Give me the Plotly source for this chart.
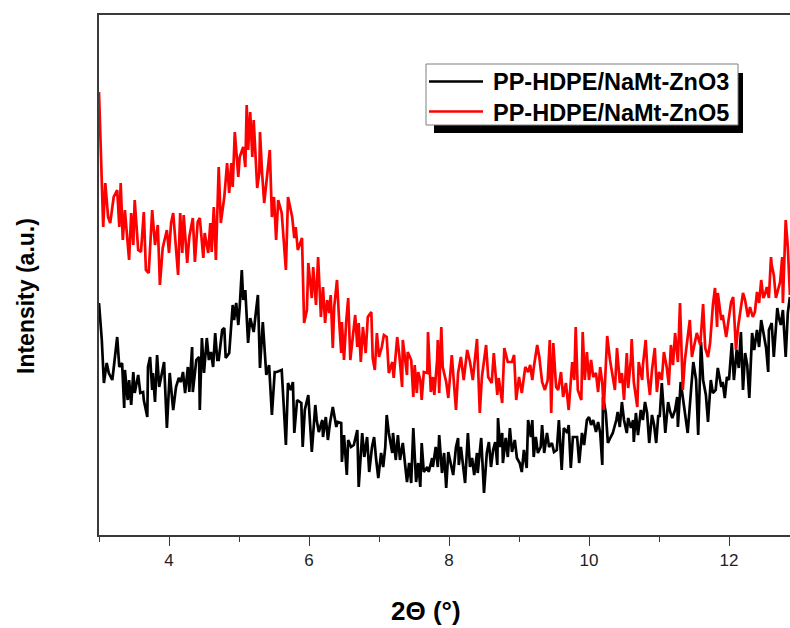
import plotly.graph_objects as go

# ---- data (2θ in degrees, intensity in arbitrary units) ----
two_theta_zno3 = [3.00, 3.04, 3.07, 3.11, 3.14, 3.19, 3.21, 3.26, 3.29, 3.33, 3.36, 3.37, 3.41, 3.43, 3.46, 3.49,
    3.51, 3.56, 3.59, 3.63, 3.64, 3.69, 3.70, 3.73, 3.76, 3.77, 3.80, 3.83, 3.86, 3.89, 3.93, 3.94,
    3.97, 4.01, 4.06, 4.10, 4.14, 4.17, 4.20, 4.23, 4.27, 4.29, 4.33, 4.34, 4.39, 4.43, 4.44, 4.47,
    4.50, 4.54, 4.57, 4.60, 4.63, 4.66, 4.69, 4.71, 4.76, 4.79, 4.81, 4.86, 4.89, 4.91, 4.93, 4.96,
    4.99, 5.01, 5.04, 5.06, 5.09, 5.13, 5.16, 5.19, 5.21, 5.24, 5.27, 5.30, 5.34, 5.39, 5.43, 5.47,
    5.49, 5.51, 5.54, 5.61, 5.64, 5.67, 5.70, 5.74, 5.77, 5.79, 5.83, 5.86, 5.89, 5.91, 5.94, 5.99,
    6.01, 6.04, 6.09, 6.11, 6.14, 6.19, 6.20, 6.24, 6.27, 6.30, 6.34, 6.39, 6.41, 6.46, 6.47, 6.50,
    6.54, 6.56, 6.60, 6.64, 6.69, 6.71, 6.76, 6.79, 6.83, 6.86, 6.90, 6.93, 6.96, 6.99, 7.03, 7.06,
    7.09, 7.11, 7.14, 7.19, 7.20, 7.24, 7.27, 7.30, 7.34, 7.37, 7.40, 7.43, 7.46, 7.49, 7.53, 7.56,
    7.59, 7.61, 7.64, 7.69, 7.71, 7.76, 7.77, 7.81, 7.84, 7.86, 7.90, 7.93, 7.96, 7.99, 8.03, 8.06,
    8.10, 8.13, 8.14, 8.17, 8.20, 8.23, 8.27, 8.30, 8.33, 8.36, 8.40, 8.41, 8.46, 8.50, 8.54, 8.57,
    8.60, 8.63, 8.66, 8.69, 8.70, 8.73, 8.76, 8.77, 8.81, 8.84, 8.87, 8.90, 8.94, 8.97, 9.01, 9.04,
    9.07, 9.11, 9.13, 9.17, 9.19, 9.21, 9.24, 9.27, 9.31, 9.33, 9.36, 9.40, 9.43, 9.47, 9.50, 9.54,
    9.57, 9.61, 9.64, 9.69, 9.71, 9.74, 9.77, 9.83, 9.86, 9.90, 9.93, 9.97, 10.00, 10.03, 10.06, 10.10,
    10.13, 10.16, 10.19, 10.20, 10.24, 10.27, 10.31, 10.34, 10.39, 10.41, 10.44, 10.47, 10.50, 10.54, 10.56, 10.60,
    10.63, 10.64, 10.67, 10.70, 10.74, 10.77, 10.80, 10.83, 10.86, 10.90, 10.93, 10.96, 10.99, 11.01, 11.04, 11.09,
    11.13, 11.16, 11.19, 11.23, 11.26, 11.27, 11.31, 11.34, 11.39, 11.41, 11.46, 11.49, 11.53, 11.56, 11.60, 11.63,
    11.67, 11.70, 11.74, 11.77, 11.81, 11.84, 11.89, 11.91, 11.94, 11.97, 12.00, 12.04, 12.07, 12.11, 12.14, 12.17,
    12.20, 12.23, 12.26, 12.29, 12.33, 12.36, 12.40, 12.43, 12.46, 12.49, 12.53, 12.56, 12.57, 12.61, 12.64, 12.69,
    12.71, 12.74, 12.77, 12.81, 12.84, 12.87]
intensity_zno3 = [232, 195, 152, 172, 162, 155, 167, 198, 168, 172, 127, 165, 135, 155, 130, 163,
    142, 160, 142, 143, 135, 118, 168, 178, 145, 162, 133, 180, 148, 160, 173, 155,
    107, 162, 125, 148, 157, 153, 163, 142, 168, 143, 188, 143, 175, 178, 125, 197,
    162, 197, 175, 183, 168, 202, 175, 175, 205, 207, 177, 182, 215, 230, 215, 232,
    210, 228, 265, 235, 245, 192, 217, 208, 203, 222, 240, 167, 213, 160, 170, 120,
    148, 163, 163, 165, 128, 90, 152, 145, 153, 102, 135, 133, 132, 88, 125, 140,
    115, 83, 130, 115, 103, 115, 98, 118, 95, 112, 128, 108, 113, 112, 73, 100,
    60, 95, 88, 90, 105, 48, 102, 78, 98, 63, 88, 98, 75, 57, 82, 68,
    88, 120, 102, 82, 102, 75, 100, 75, 92, 70, 53, 72, 52, 107, 53, 72,
    48, 92, 63, 68, 63, 77, 68, 88, 68, 100, 62, 82, 47, 83, 70, 60,
    88, 97, 70, 88, 70, 52, 102, 68, 77, 60, 82, 62, 97, 42, 82, 93,
    68, 85, 93, 70, 117, 88, 102, 72, 97, 78, 107, 83, 95, 77, 72, 63,
    85, 67, 115, 98, 115, 78, 98, 82, 88, 110, 82, 102, 88, 92, 83, 85,
    115, 65, 107, 102, 110, 67, 98, 98, 72, 102, 90, 115, 118, 110, 115, 103,
    113, 102, 70, 138, 122, 92, 98, 102, 115, 123, 108, 133, 115, 102, 117, 107,
    115, 93, 122, 100, 125, 115, 133, 122, 92, 120, 110, 92, 120, 118, 152, 102,
    133, 123, 117, 125, 138, 108, 153, 138, 115, 102, 147, 173, 155, 100, 193, 155,
    140, 113, 155, 142, 145, 167, 148, 153, 137, 158, 155, 192, 155, 185, 167, 203,
    145, 182, 170, 137, 202, 185, 205, 188, 215, 202, 187, 163, 205, 212, 178, 227,
    218, 210, 225, 178, 222, 238]

two_theta_zno5 = [3.00, 3.03, 3.04, 3.06, 3.09, 3.13, 3.16, 3.21, 3.26, 3.29, 3.31, 3.34, 3.37, 3.43, 3.46, 3.49,
    3.51, 3.56, 3.60, 3.64, 3.67, 3.71, 3.76, 3.80, 3.84, 3.87, 3.91, 3.97, 4.00, 4.03, 4.06, 4.13,
    4.16, 4.19, 4.21, 4.26, 4.29, 4.34, 4.37, 4.41, 4.44, 4.49, 4.51, 4.56, 4.59, 4.61, 4.64, 4.67,
    4.71, 4.74, 4.79, 4.83, 4.86, 4.89, 4.91, 4.94, 4.99, 5.01, 5.06, 5.09, 5.11, 5.13, 5.16, 5.19,
    5.21, 5.26, 5.29, 5.30, 5.33, 5.36, 5.41, 5.44, 5.47, 5.50, 5.53, 5.56, 5.61, 5.63, 5.67, 5.70,
    5.76, 5.79, 5.81, 5.84, 5.90, 5.93, 5.97, 5.99, 6.04, 6.06, 6.10, 6.13, 6.17, 6.20, 6.23, 6.26,
    6.29, 6.31, 6.34, 6.36, 6.40, 6.43, 6.46, 6.47, 6.50, 6.53, 6.56, 6.59, 6.63, 6.66, 6.69, 6.71,
    6.74, 6.77, 6.81, 6.84, 6.89, 6.91, 6.94, 6.97, 7.00, 7.04, 7.07, 7.11, 7.14, 7.19, 7.21, 7.26,
    7.29, 7.33, 7.34, 7.40, 7.41, 7.46, 7.49, 7.51, 7.54, 7.56, 7.59, 7.61, 7.64, 7.69, 7.70, 7.74,
    7.77, 7.79, 7.83, 7.84, 7.86, 7.89, 7.91, 7.96, 7.99, 8.04, 8.10, 8.13, 8.17, 8.21, 8.26, 8.30,
    8.34, 8.40, 8.44, 8.47, 8.53, 8.56, 8.61, 8.64, 8.69, 8.71, 8.76, 8.79, 8.84, 8.90, 8.93, 8.96,
    9.00, 9.04, 9.09, 9.13, 9.16, 9.19, 9.21, 9.26, 9.29, 9.33, 9.37, 9.41, 9.44, 9.46, 9.49, 9.53,
    9.56, 9.60, 9.63, 9.67, 9.71, 9.76, 9.79, 9.81, 9.84, 9.89, 9.91, 9.94, 9.97, 10.00, 10.03, 10.06,
    10.10, 10.13, 10.16, 10.19, 10.21, 10.26, 10.30, 10.34, 10.37, 10.40, 10.44, 10.47, 10.50, 10.54, 10.56, 10.60,
    10.61, 10.64, 10.69, 10.71, 10.76, 10.77, 10.81, 10.84, 10.87, 10.90, 10.94, 10.97, 11.00, 11.04, 11.07, 11.11,
    11.14, 11.17, 11.20, 11.23, 11.27, 11.30, 11.34, 11.37, 11.41, 11.44, 11.47, 11.51, 11.54, 11.59, 11.63, 11.66,
    11.70, 11.73, 11.77, 11.80, 11.83, 11.84, 11.89, 11.91, 11.96, 11.99, 12.03, 12.06, 12.10, 12.13, 12.17, 12.20,
    12.23, 12.27, 12.30, 12.34, 12.37, 12.40, 12.43, 12.46, 12.49, 12.51, 12.54, 12.57, 12.60, 12.61, 12.64, 12.67,
    12.70, 12.73, 12.76, 12.77, 12.81, 12.84, 12.87]
intensity_zno5 = [443, 378, 355, 308, 352, 318, 312, 338, 345, 308, 352, 295, 325, 275, 322, 290,
    335, 285, 283, 323, 265, 262, 325, 290, 310, 250, 287, 305, 282, 312, 322, 260,
    322, 282, 320, 272, 298, 317, 273, 313, 317, 277, 302, 282, 312, 283, 328, 275,
    368, 312, 338, 372, 342, 372, 348, 403, 358, 378, 388, 368, 430, 385, 423, 378,
    415, 347, 362, 403, 362, 332, 365, 385, 318, 338, 295, 335, 322, 303, 265, 338,
    318, 297, 308, 285, 297, 212, 225, 272, 237, 268, 230, 278, 218, 248, 212, 235,
    222, 240, 187, 228, 255, 215, 182, 213, 175, 212, 237, 175, 198, 220, 188, 212,
    173, 208, 182, 218, 223, 177, 165, 202, 178, 188, 200, 198, 162, 173, 157, 198,
    180, 148, 195, 160, 183, 175, 138, 170, 142, 163, 155, 135, 163, 162, 203, 143,
    158, 140, 175, 195, 142, 208, 168, 153, 137, 180, 125, 162, 178, 155, 185, 173,
    155, 196, 122, 158, 190, 158, 152, 182, 140, 157, 132, 187, 173, 173, 180, 135,
    158, 142, 168, 163, 170, 155, 167, 190, 178, 153, 145, 155, 195, 122, 192, 148,
    145, 163, 138, 152, 125, 173, 155, 208, 145, 135, 203, 155, 183, 155, 175, 158,
    162, 143, 168, 152, 125, 199, 175, 155, 145, 187, 152, 162, 135, 182, 147, 177,
    196, 153, 128, 173, 155, 170, 195, 158, 140, 165, 187, 143, 163, 155, 183, 168,
    150, 190, 170, 202, 173, 232, 145, 175, 197, 215, 178, 193, 202, 190, 231, 187,
    178, 192, 230, 247, 208, 242, 215, 220, 198, 213, 233, 238, 185, 208, 228, 242,
    235, 218, 228, 218, 223, 243, 232, 255, 237, 240, 248, 237, 278, 270, 260, 237,
    245, 253, 278, 232, 315, 288, 240]

series_names = ["PP-HDPE/NaMt-ZnO3", "PP-HDPE/NaMt-ZnO5"]
series_colors = ["#000000", "#ff0000"]
x_tick_values = [4, 6, 8, 10, 12]

# ---- figure geometry (pixels) ----
W, H = 790, 628
L, R, T, B = 99, 0, 15, 93
PW, PH = W - L - R, H - T - B


def px(x):
    return (x - L) / PW


def py(y):
    return (H - B - y) / PH


fig = go.Figure()
fig.add_trace(go.Scatter(x=two_theta_zno3, y=intensity_zno3, mode="lines", name=series_names[0],
                         line=dict(color=series_colors[0], width=2.7), showlegend=False))
fig.add_trace(go.Scatter(x=two_theta_zno5, y=intensity_zno5, mode="lines", name=series_names[1],
                         line=dict(color=series_colors[1], width=2.7), showlegend=False))

font_family = "Liberation Sans, Arial, sans-serif"
axis_color = "#3a3a3a"

fig.update_layout(
    width=W, height=H,
    margin=dict(l=L, r=R, t=T, b=B, pad=0),
    paper_bgcolor="white", plot_bgcolor="white",
    font=dict(family=font_family, color="#222222"),
    xaxis=dict(range=[3, 3 + PW / 70.0], tickvals=x_tick_values, ticks="outside", ticklen=9,
               tickwidth=1.3, tickcolor=axis_color, showline=True, linecolor=axis_color, linewidth=1.6,
               mirror=True, showgrid=False, zeroline=False, tickfont=dict(size=17, color="#222222"),
               minor=dict(tickvals=[3, 5, 7, 9, 11], ticks="outside", ticklen=5, tickwidth=1.3,
                          tickcolor=axis_color, showgrid=False)),
    yaxis=dict(range=[0, 520], showticklabels=False, ticks="", showline=True, linecolor=axis_color,
               linewidth=1.6, mirror=False, showgrid=False, zeroline=False),
    showlegend=False,
)

# ---- legend box with drop shadow ----
shapes = [
    dict(type="rect", xref="paper", yref="paper", x0=px(434), x1=px(743), y0=py(73), y1=py(133),
         fillcolor="black", line=dict(width=0), layer="above"),
    dict(type="rect", xref="paper", yref="paper", x0=px(426), x1=px(738), y0=py(64), y1=py(125),
         fillcolor="white", line=dict(color="#7f7f7f", width=1), layer="above"),
    dict(type="line", xref="paper", yref="paper", x0=px(429), x1=px(483), y0=py(81.5), y1=py(81.5),
         line=dict(color=series_colors[0], width=2.6), layer="above"),
    dict(type="line", xref="paper", yref="paper", x0=px(429), x1=px(483), y0=py(111.5), y1=py(111.5),
         line=dict(color=series_colors[1], width=2.6), layer="above"),
]
fig.update_layout(shapes=shapes)

annotations = [
    dict(text="<b>" + series_names[0] + "</b>", xref="paper", yref="paper", x=px(491), y=py(82),
         xanchor="left", yanchor="middle", showarrow=False, font=dict(size=23.5, color="black")),
    dict(text="<b>" + series_names[1] + "</b>", xref="paper", yref="paper", x=px(491), y=py(113),
         xanchor="left", yanchor="middle", showarrow=False, font=dict(size=23.5, color="black")),
    dict(text="<b>2Θ (°)</b>", xref="paper", yref="paper", x=px(426), y=py(611),
         xanchor="center", yanchor="middle", showarrow=False, font=dict(size=26, color="black")),
    dict(text="<b>Intensity (a.u.)</b>", xref="paper", yref="paper", x=px(26), y=py(296),
         xanchor="center", yanchor="middle", textangle=-90, showarrow=False,
         font=dict(size=23, color="black")),
]
fig.update_layout(annotations=annotations)

fig.write_html("out.html")
